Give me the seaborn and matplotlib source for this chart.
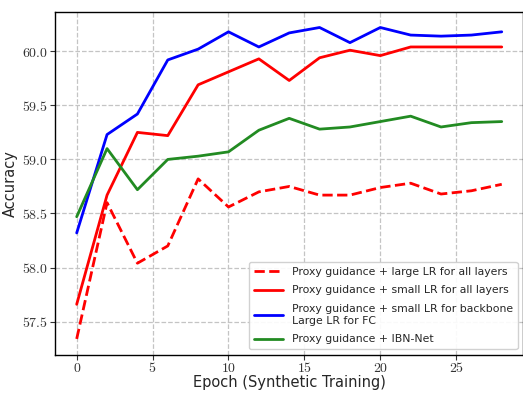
import matplotlib
matplotlib.use("Agg")
import matplotlib.pyplot as plt
import pandas as pd
import seaborn as sns
from matplotlib.ticker import FuncFormatter

epochs = list(range(0, 29, 2))

large_lr_all = [57.34, 58.60, 58.04, 58.20, 58.82, 58.56, 58.70, 58.75, 58.67, 58.67, 58.74, 58.78, 58.68, 58.71, 58.77]
small_lr_all = [57.66, 58.67, 59.25, 59.22, 59.69, 59.81, 59.93, 59.73, 59.94, 60.01, 59.96, 60.04, 60.04, 60.04, 60.04]
small_lr_backbone = [58.32, 59.23, 59.42, 59.92, 60.02, 60.18, 60.04, 60.17, 60.22, 60.08, 60.22, 60.15, 60.14, 60.15, 60.18]
ibn_net = [58.47, 59.10, 58.72, 59.00, 59.03, 59.07, 59.27, 59.38, 59.28, 59.30, 59.35, 59.40, 59.30, 59.34, 59.35]

labels = [
    "Proxy guidance + large LR for all layers",
    "Proxy guidance + small LR for all layers",
    "Proxy guidance + small LR for backbone\nLarge LR for FC",
    "Proxy guidance + IBN-Net",
]
colors = ["red", "red", "blue", "forestgreen"]
styles = ["--", "-", "-", "-"]

sns.set_style("white")
plt.rcParams["mathtext.fontset"] = "cm"
plt.rcParams["font.family"] = ["DejaVu Sans"]

df = pd.concat([
    pd.DataFrame({"Epoch": epochs, "Accuracy": vals, "Setting": lab})
    for vals, lab in zip([large_lr_all, small_lr_all, small_lr_backbone, ibn_net], labels)
])

fig, ax = plt.subplots(figsize=(5.23, 3.94), dpi=100)
for lab, c, ls in zip(labels, colors, styles):
    sub = df[df["Setting"] == lab]
    sns.lineplot(data=sub, x="Epoch", y="Accuracy", ax=ax, color=c, linestyle=ls,
                 linewidth=2.0, label=lab)

ax.grid(True, linestyle="--", color="#c4c4c4", linewidth=0.9)
for s in ax.spines.values():
    s.set_color("black")
    s.set_linewidth(1.0)
ax.tick_params(axis="both", which="major", length=3.5, direction="out", left=True, bottom=True,
               labelsize=10, pad=2, colors="#333333")
ax.tick_params(axis="x", pad=1)
ax.xaxis.set_major_formatter(FuncFormatter(lambda v, p: r"$%d$" % v))
ax.yaxis.set_major_formatter(FuncFormatter(lambda v, p: r"$%.1f$" % v))
ax.set_xticks([0, 5, 10, 15, 20, 25])
ax.set_xlim(-1.4, 29.4)
ax.set_ylim(57.195, 60.365)
ax.set_xlabel("Epoch (Synthetic Training)", fontsize=10.5, labelpad=0)
ax.set_ylabel("Accuracy", fontsize=10.5, labelpad=3)
ax.legend(loc="lower right", fontsize=7.8, framealpha=0.9, handlelength=2.7,
          borderpad=0.45, labelspacing=0.8, bbox_to_anchor=(1.0, 0.0))

fig.subplots_adjust(left=0.106, right=1.0, top=0.97, bottom=0.1)
fig.savefig("out.png", dpi=100)
